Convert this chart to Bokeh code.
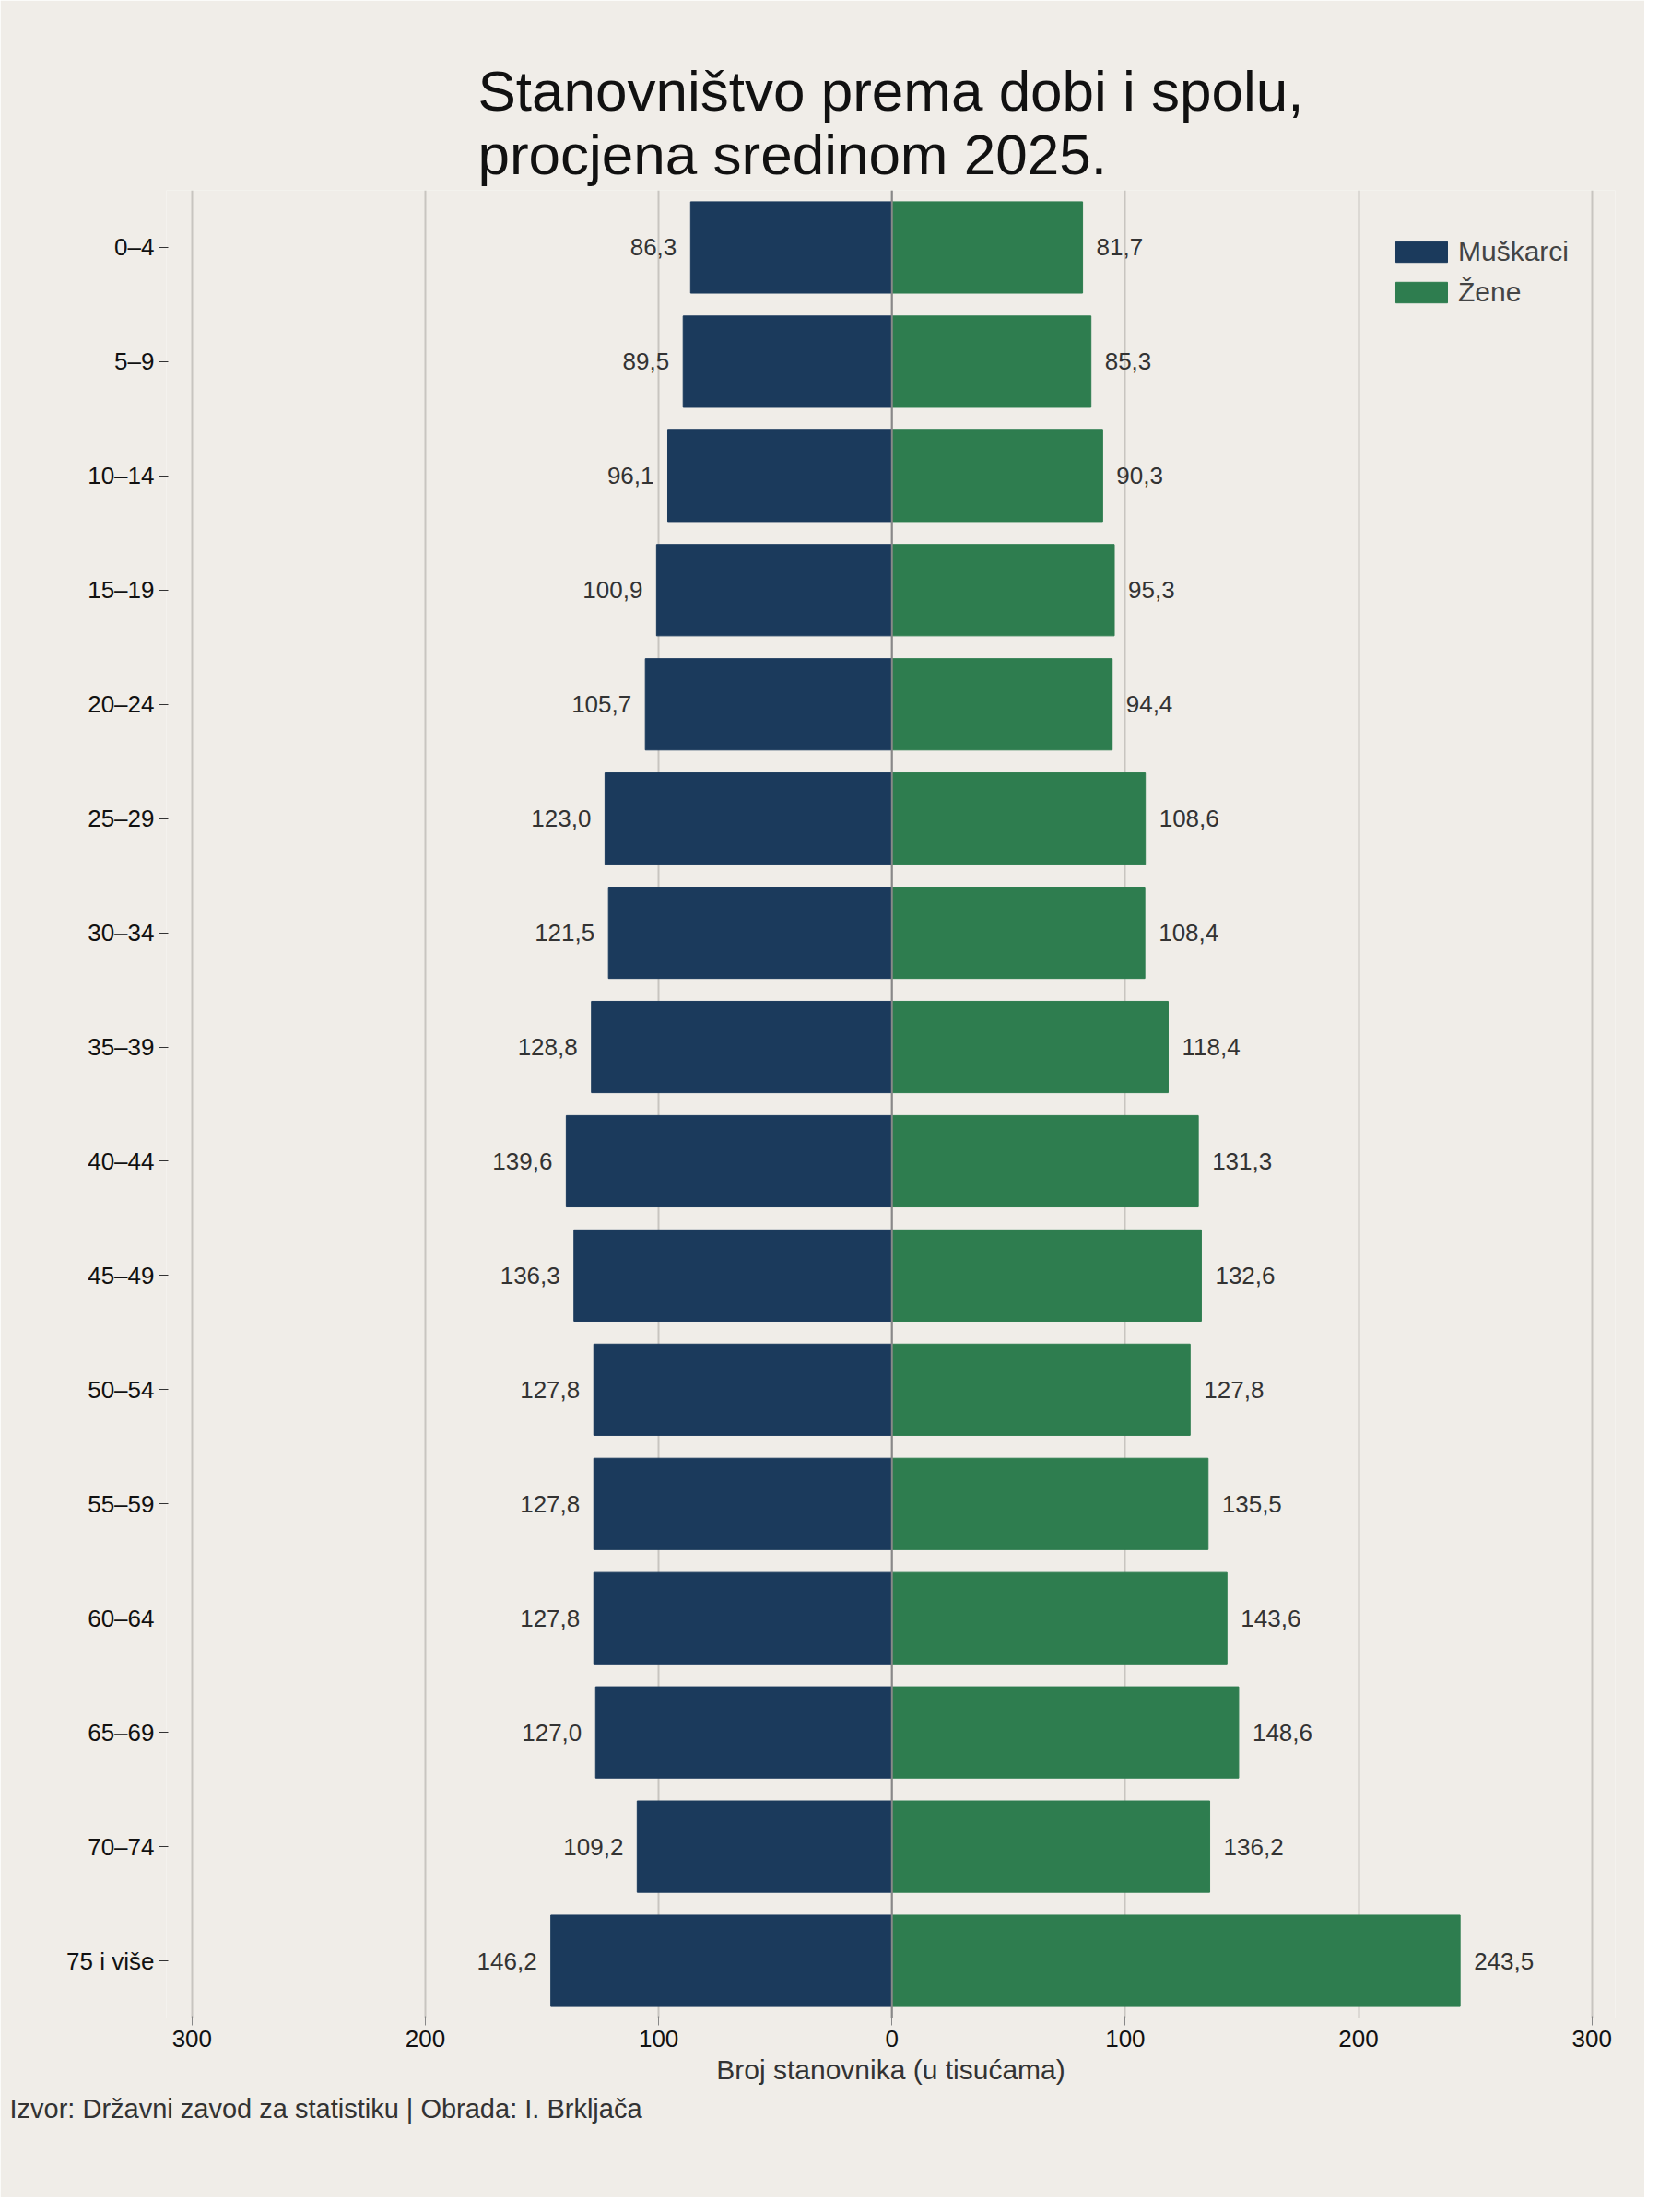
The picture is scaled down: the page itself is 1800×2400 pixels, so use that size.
from bokeh.plotting import figure
from bokeh.models import ColumnDataSource, FixedTicker, Span, Title, Legend, LegendItem
from bokeh.embed import file_html
from bokeh.resources import INLINE

ages = ["0–4","5–9","10–14","15–19","20–24","25–29","30–34","35–39","40–44","45–49",
        "50–54","55–59","60–64","65–69","70–74","75 i više"]
men = [86.3,89.5,96.1,100.9,105.7,123.0,121.5,128.8,139.6,136.3,127.8,127.8,127.8,127.0,109.2,146.2]
women = [81.7,85.3,90.3,95.3,94.4,108.6,108.4,118.4,131.3,132.6,127.8,135.5,143.6,148.6,136.2,243.5]
xticks = [-300,-200,-100,0,100,200,300]

BG = "#f0ede8"
NAVY = "#1b3a5c"
GREEN = "#2e7d4f"

def fmt(v):
    return f"{v:.1f}".replace(".", ",")

src = ColumnDataSource(dict(
    age=ages, mneg=[-m for m in men], w=women,
    ml=[fmt(m) for m in men], wl=[fmt(w) for w in women],
))

p = figure(width=1784, height=2384, y_range=list(reversed(ages)), x_range=(-311, 310),
           output_backend="svg", toolbar_location=None,
           min_border_left=180, min_border_right=32, min_border_bottom=195, min_border_top=206,
           background_fill_color=BG, border_fill_color=BG, outline_line_color=None)

rm = p.hbar(y="age", left="mneg", right=0, height=0.8, color=NAVY, source=src)
rw = p.hbar(y="age", left=0, right="w", height=0.8, color=GREEN, source=src)

p.text(x="mneg", y="age", text="ml", source=src, x_offset=-15, text_align="right",
       text_baseline="middle", text_font_size="26px", text_color="#333333")
p.text(x="w", y="age", text="wl", source=src, x_offset=15, text_align="left",
       text_baseline="middle", text_font_size="26px", text_color="#333333")

p.add_layout(Span(location=0, dimension="height", line_color="#888888", line_width=2))

p.xaxis.ticker = FixedTicker(ticks=xticks)
p.xaxis.major_label_overrides = {t: str(abs(t)) for t in xticks}
p.xaxis.axis_label = "Broj stanovnika (u tisućama)"
p.xaxis.axis_label_text_font_style = "normal"
p.xaxis.axis_label_text_font_size = "30px"
p.xaxis.axis_label_text_color = "#333333"
p.xaxis.axis_line_color = "#888888"
p.xaxis.major_tick_line_color = "#888888"
p.xaxis.major_tick_out = 8
p.xaxis.minor_tick_line_color = None
p.axis.major_label_text_font_size = "26px"
p.axis.major_label_text_color = "#111111"
p.yaxis.axis_line_color = None
p.yaxis.major_tick_line_color = "#333333"
p.yaxis.major_tick_out = 8
p.ygrid.grid_line_color = None
p.xgrid.grid_line_color = "#c8c5c0"
p.xgrid.grid_line_width = 2

legend = Legend(items=[LegendItem(label="Muškarci", renderers=[rm]),
                       LegendItem(label="Žene", renderers=[rw])],
                location="top_right", background_fill_alpha=0, border_line_color=None,
                label_text_font_size="30px", glyph_width=70, glyph_height=28,
                margin=50, spacing=10)
p.add_layout(legend)

p.add_layout(Title(text="Izvor: Državni zavod za statistiku | Obrada: I. Brkljača",
                   text_font_size="29px", text_font_style="normal", text_color="#333333",
                   align="left", offset=-170), "below")
p.add_layout(Title(text="Stanovništvo prema dobi i spolu,\nprocjena sredinom 2025.",
                   text_font_size="62px", text_font_style="normal", align="center",
                   text_color="#111111"), "above")

open("out.html", "w").write(file_html(p, INLINE))
